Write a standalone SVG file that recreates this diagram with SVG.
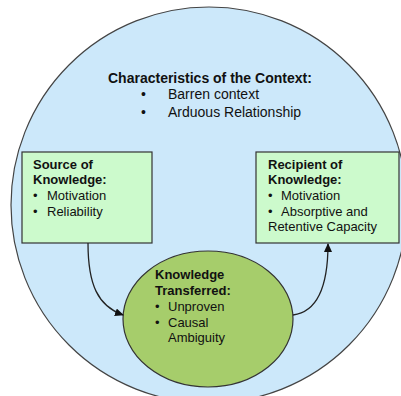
<svg xmlns="http://www.w3.org/2000/svg" width="401" height="396" viewBox="0 0 401 396">
<style>
text{font-family:"Liberation Sans",Arial,sans-serif;fill:#111;}
.t{font-size:14px;}
.s{font-size:13px;}
.b{font-weight:bold;}
.box{fill:#CCFACC;stroke:#333;stroke-width:1.2;}
.conn{fill:none;stroke:#222;stroke-width:1.3;}
</style>
<defs>
<marker id="ah" markerWidth="10" markerHeight="10" refX="8" refY="4" orient="auto" markerUnits="userSpaceOnUse">
<path d="M0,0 L9,4 L0,8 z" fill="#111"/>
</marker>
</defs>
<rect width="401" height="396" fill="#fff"/>
<g id="context">
<circle cx="209" cy="205" r="198" fill="#CCE8FA" stroke="#444" stroke-width="1.2"/>
<text class="t b" x="108" y="83">Characteristics of the Context:</text>
<text class="t" x="141" y="99">•</text>
<text class="t" x="168" y="99">Barren context</text>
<text class="t" x="141" y="117">•</text>
<text class="t" x="168" y="117">Arduous Relationship</text>
</g>
<g id="source">
<rect class="box" x="22" y="152" width="130" height="91"/>
<text class="s b" x="33" y="169">Source of</text>
<text class="s b" x="33" y="184">Knowledge:</text>
<text class="s" x="33" y="200">•</text>
<text class="s" x="47" y="200">Motivation</text>
<text class="s" x="33" y="216">•</text>
<text class="s" x="47" y="216">Reliability</text>
</g>
<g id="recipient">
<rect class="box" x="256" y="152" width="143" height="91"/>
<text class="s b" x="268" y="169">Recipient of</text>
<text class="s b" x="268" y="184">Knowledge:</text>
<text class="s" x="268" y="200">•</text>
<text class="s" x="281" y="200">Motivation</text>
<text class="s" x="268" y="216">•</text>
<text class="s" x="281" y="216">Absorptive and</text>
<text class="s" x="268" y="231">Retentive Capacity</text>
</g>
<g id="transferred">
<ellipse cx="208" cy="319" rx="85" ry="68" fill="#A6CD6B" stroke="#333" stroke-width="1.2"/>
<text class="s b" x="155" y="279">Knowledge</text>
<text class="s b" x="155" y="295">Transferred:</text>
<text class="s" x="155" y="311">•</text>
<text class="s" x="168" y="311">Unproven</text>
<text class="s" x="155" y="327">•</text>
<text class="s" x="168" y="327">Causal</text>
<text class="s" x="168" y="342">Ambiguity</text>
</g>
<g id="connectors">
<path class="conn" d="M88,243 C88,285 98,306 123,315" marker-end="url(#ah)"/>
<path class="conn" d="M293,315 C316,312 328,290 328,244" marker-end="url(#ah)"/>
</g>
</svg>
